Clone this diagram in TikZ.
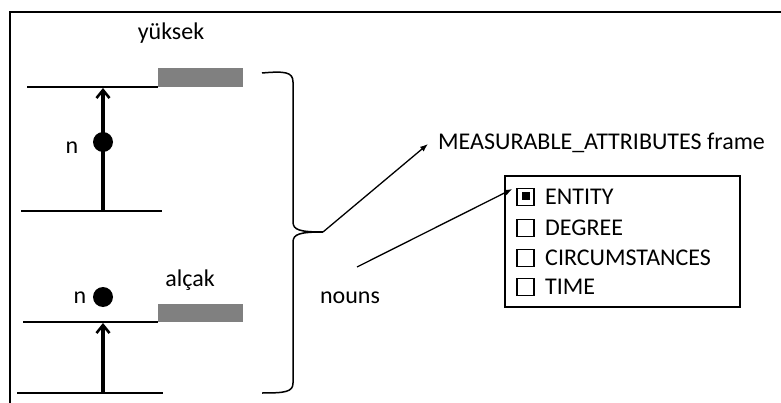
\documentclass[tikz,border=0pt]{standalone}
\usepackage{fontspec}
\setmainfont{Carlito}
\usetikzlibrary{arrows.meta}
\begin{document}
\begin{tikzpicture}[x=1pt,y=-1pt,
  txt/.style={font=\fontsize{24}{28}\selectfont, inner sep=0pt},
  level/.style={line width=2pt},
  bar/.style={fill=gray, draw=none},
  updart/.style={line width=3.5pt, -{Straight Barb[length=8pt,width=13pt,line width=2.6pt]}},
  dotc/.style={circle, fill=black, minimum size=20pt, inner sep=0pt},
  thin arrow/.style={line width=1.3pt, -{Latex[length=8pt,width=6pt]}},
  chk/.style={draw, line width=1.2pt, minimum size=17pt, inner sep=0pt},
]
\useasboundingbox (0,0) rectangle (781,403);
\fill[white] (0,0) rectangle (781,403);
% frame
\draw[line width=1.8pt] (10,403) -- (10,12) -- (781,12);

% upper level diagram
\coordinate (u1a) at (27,87); \coordinate (u1b) at (158,87);
\coordinate (u2a) at (21,211); \coordinate (u2b) at (162,211);
\draw[level] (u1a) -- (u1b);
\draw[level] (u2a) -- (u2b);
\fill[bar] (158,68) rectangle (243,87);
\node[txt] (yuksek) at (171,33) {yüksek};
\coordinate (ua0) at (103,211); \coordinate (ua1) at (103,88);
\draw[updart] (ua0) -- (ua1);
\node[dotc] (dot1) at (103,142) {};
\node[txt] (n1) at (72,148) {n};

% lower level diagram
\coordinate (l1a) at (23,322); \coordinate (l1b) at (158,322);
\coordinate (l2a) at (17,393); \coordinate (l2b) at (163,393);
\draw[level] (l1a) -- (l1b);
\draw[level] (l2a) -- (l2b);
\fill[bar] (158,304) rectangle (243,322);
\node[txt] (alcak) at (190,280) {alçak};
\coordinate (la0) at (103,393); \coordinate (la1) at (103,323);
\draw[updart] (la0) -- (la1);
\node[dotc] (dot2) at (103,297) {};
\node[txt] (n2) at (80,298) {n};

% brace
\coordinate (tip) at (323,232);
\draw[line width=1.5pt] (262,73) .. controls (285,71) and (293,72) .. (293,82)
  -- (293,222) .. controls (293,230) and (300,232) .. (tip)
  .. controls (300,232) and (293,234) .. (293,242)
  -- (293,383) .. controls (293,392) and (285,393) .. (262,393);

% labels right
\node[txt, anchor=west] (meas) at (438,143) {MEASURABLE\_ATTRIBUTES frame};
\draw[thin arrow] (tip) -- ([xshift=-10pt,yshift=-1pt]meas.west);
\node[txt] (nouns) at (350,298) {nouns};
\coordinate (nstart) at (357,267);

% box
\draw[line width=1.3pt] (505,176) rectangle (740,307);
\node[chk] (c1) at (525.5,197) {};
\fill (521.5,192.5) rectangle (529.5,200.5);
\node[chk] (c2) at (525.5,228) {};
\node[chk] (c3) at (525.5,258) {};
\node[chk] (c4) at (525.5,287) {};
\node[txt, anchor=west] (t1) at (545,197) {ENTITY};
\node[txt, anchor=west] (t2) at (545,228) {DEGREE};
\node[txt, anchor=west] (t3) at (545,258) {CIRCUMSTANCES};
\node[txt, anchor=west] (t4) at (545,287) {TIME};
\draw[thin arrow] (nstart) -- ([xshift=-4pt,yshift=8pt]c1.west);
\end{tikzpicture}
\end{document}
